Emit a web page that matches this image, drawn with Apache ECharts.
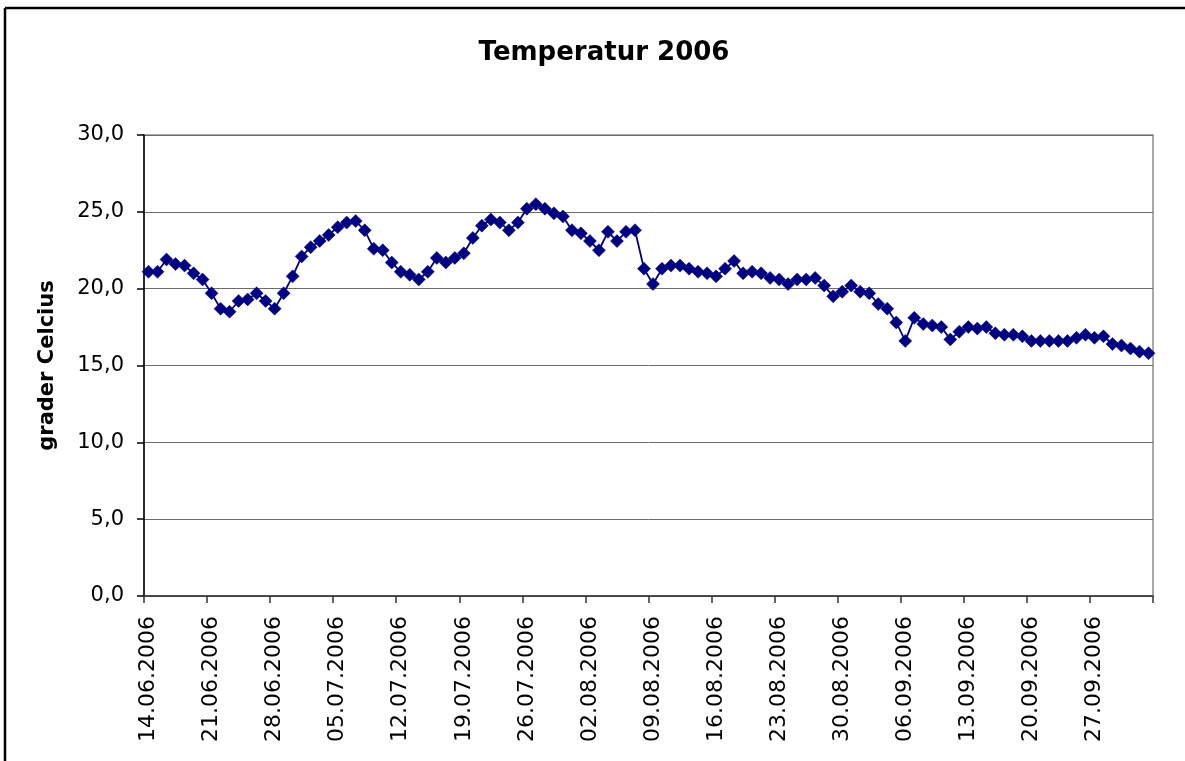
<!DOCTYPE html>
<html>
<head>
<meta charset="utf-8">
<script src="https://cdn.jsdelivr.net/npm/echarts@6/dist/echarts.min.js"></script>
<style>
html,body{margin:0;padding:0;background:#fff;overflow:hidden;}
#chart{width:1185px;height:761px;}
</style>
</head>
<body>
<div id="chart"></div>
<script>
const titleText = 'Temperatur 2006';
const yAxisName = 'grader Celcius';

const dates = [
'14.06.2006','15.06.2006','16.06.2006','17.06.2006','18.06.2006','19.06.2006','20.06.2006',
'21.06.2006','22.06.2006','23.06.2006','24.06.2006','25.06.2006','26.06.2006','27.06.2006',
'28.06.2006','29.06.2006','30.06.2006','01.07.2006','02.07.2006','03.07.2006','04.07.2006',
'05.07.2006','06.07.2006','07.07.2006','08.07.2006','09.07.2006','10.07.2006','11.07.2006',
'12.07.2006','13.07.2006','14.07.2006','15.07.2006','16.07.2006','17.07.2006','18.07.2006',
'19.07.2006','20.07.2006','21.07.2006','22.07.2006','23.07.2006','24.07.2006','25.07.2006',
'26.07.2006','27.07.2006','28.07.2006','29.07.2006','30.07.2006','31.07.2006','01.08.2006',
'02.08.2006','03.08.2006','04.08.2006','05.08.2006','06.08.2006','07.08.2006','08.08.2006',
'09.08.2006','10.08.2006','11.08.2006','12.08.2006','13.08.2006','14.08.2006','15.08.2006',
'16.08.2006','17.08.2006','18.08.2006','19.08.2006','20.08.2006','21.08.2006','22.08.2006',
'23.08.2006','24.08.2006','25.08.2006','26.08.2006','27.08.2006','28.08.2006','29.08.2006',
'30.08.2006','31.08.2006','01.09.2006','02.09.2006','03.09.2006','04.09.2006','05.09.2006',
'06.09.2006','07.09.2006','08.09.2006','09.09.2006','10.09.2006','11.09.2006','12.09.2006',
'13.09.2006','14.09.2006','15.09.2006','16.09.2006','17.09.2006','18.09.2006','19.09.2006',
'20.09.2006','21.09.2006','22.09.2006','23.09.2006','24.09.2006','25.09.2006','26.09.2006',
'27.09.2006','28.09.2006','29.09.2006','30.09.2006','01.10.2006','02.10.2006','03.10.2006'
];

const temperatures = [
21.1, 21.1, 21.9, 21.6, 21.5, 21.0, 20.6,
19.7, 18.7, 18.5, 19.2, 19.3, 19.7, 19.2,
18.7, 19.7, 20.8, 22.1, 22.7, 23.1, 23.5,
24.0, 24.3, 24.4, 23.8, 22.6, 22.5, 21.7,
21.1, 20.9, 20.6, 21.1, 22.0, 21.7, 22.0,
22.3, 23.3, 24.1, 24.5, 24.3, 23.8, 24.3,
25.2, 25.5, 25.2, 24.9, 24.7, 23.8, 23.6,
23.1, 22.5, 23.7, 23.1, 23.7, 23.8, 21.3,
20.3, 21.3, 21.5, 21.5, 21.3, 21.1, 21.0,
20.8, 21.3, 21.8, 21.0, 21.1, 21.0, 20.7,
20.6, 20.3, 20.6, 20.6, 20.7, 20.2, 19.5,
19.8, 20.2, 19.8, 19.7, 19.0, 18.7, 17.8,
16.6, 18.1, 17.7, 17.6, 17.5, 16.7, 17.2,
17.5, 17.4, 17.5, 17.1, 17.0, 17.0, 16.9,
16.6, 16.6, 16.6, 16.6, 16.6, 16.8, 17.0,
16.8, 16.9, 16.4, 16.3, 16.1, 15.9, 15.8
];

const yTicks = { min: 0, max: 30, interval: 5 };

const chart = echarts.init(document.getElementById('chart'), null, { renderer: 'canvas' });
chart.setOption({
  animation: false,
  backgroundColor: '#ffffff',
  title: {
    text: titleText,
    left: 599,
    top: 35,
    textAlign: 'center',
    textStyle: { fontFamily: 'DejaVu Sans', fontWeight: 'bold', fontSize: 26, color: '#000' }
  },
  grid: {
    left: 144, top: 135, right: 32, bottom: 165,
    containLabel: false,
    show: true, borderColor: '#8c8c8c', borderWidth: 1.5, backgroundColor: 'transparent'
  },
  xAxis: {
    type: 'category',
    data: dates,
    boundaryGap: true,
    axisLine: { lineStyle: { color: '#333', width: 1.5 } },
    axisTick: { show: true, interval: 6, length: 7, inside: false, lineStyle: { color: '#333', width: 1.5 } },
    axisLabel: {
      interval: 6, rotate: 90, margin: 20,
      fontFamily: 'DejaVu Sans', fontSize: 22, color: '#000'
    },
    splitLine: { show: false }
  },
  yAxis: {
    type: 'value',
    min: yTicks.min, max: yTicks.max, interval: yTicks.interval,
    name: yAxisName,
    nameLocation: 'middle',
    nameRotate: 90,
    nameGap: 86,
    nameTextStyle: { fontFamily: 'DejaVu Sans', fontWeight: 'bold', fontSize: 21, color: '#000' },
    axisLine: { show: true, lineStyle: { color: '#000', width: 1.5 } },
    axisTick: { show: true, length: 7, inside: false, lineStyle: { color: '#000', width: 1.5 } },
    axisLabel: {
      margin: 20,
      fontFamily: 'DejaVu Sans', fontSize: 21, color: '#000',
      formatter: v => v.toFixed(1).replace('.', ',')
    },
    splitLine: { show: true, lineStyle: { color: '#6b6b6b', width: 1 } }
  },
  series: [{
    type: 'line',
    data: temperatures,
    symbol: 'diamond',
    symbolSize: 13,
    showSymbol: true,
    showAllSymbol: true,
    itemStyle: { color: '#000080', borderColor: '#000080', borderWidth: 0.5 },
    lineStyle: { color: '#000080', width: 1.8 }
  }],
  graphic: [{
    type: 'line',
    shape: { x1: 5, y1: 8, x2: 1185, y2: 8 },
    style: { stroke: '#000', lineWidth: 2.5 },
    silent: true, z: 100
  }, {
    type: 'line',
    shape: { x1: 5, y1: 8, x2: 5, y2: 761 },
    style: { stroke: '#000', lineWidth: 2.5 },
    silent: true, z: 100
  }]
});
</script>
</body>
</html>
